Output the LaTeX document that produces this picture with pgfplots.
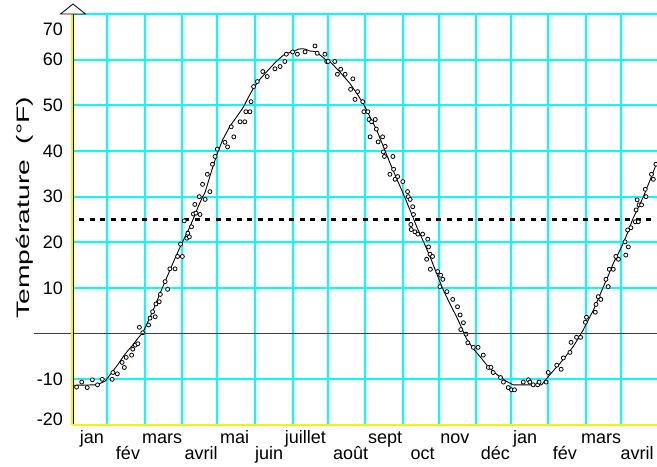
\documentclass[border=0pt]{standalone}
\usepackage{fontspec}
\setmainfont{Liberation Sans}
\usepackage{graphicx}
\usepackage{pgfplots}
\pgfplotsset{compat=1.18}

\definecolor{gridcyan}{RGB}{0,255,255}
\definecolor{axisyellow}{RGB}{245,245,0}

\begin{document}
\begin{tikzpicture}[font=\fontsize{9}{10}\selectfont]
\begin{axis}[
  name=ax,
  width=292pt, height=205.5pt, scale only axis,
  xmin=0.073, xmax=15.97, ymin=-20, ymax=70,
  axis line style={draw=none},
  clip=false,
  major tick length=0pt, minor tick length=0pt,
  major grid style={gridcyan, line width=0.9pt},
  % month names, two rows
  xtick={0.59,1.57,2.50,3.56,4.47,5.41,6.40,7.63,8.57,9.59,10.47,11.57,12.38,13.46,14.45,15.43},
  xticklabels={jan,{\raisebox{-7.75pt}{fév}},mars,{\raisebox{-7.75pt}{avril}},mai,{\raisebox{-7.75pt}{juin}},
    juillet,{\raisebox{-7.75pt}{août}},sept,{\raisebox{-7.75pt}{oct}},nov,{\raisebox{-7.75pt}{déc}},
    jan,{\raisebox{-7.75pt}{fév}},mars,{\raisebox{-7.75pt}{avril}}},
  xticklabel style={anchor=base, yshift=-9.25pt},
  xmajorgrids=false,
  % month boundaries
  extra x ticks={1,2.025,3.048,4.001,5.035,6.053,7.014,8.029,9.064,10.027,11.043,11.987,13.010,14.036,14.997},
  extra x tick labels={},
  extra x tick style={xmajorgrids=true, major grid style={gridcyan, line width=0.9pt}},
  ytick={-20,-10,10,20,30,40,50,60,70},
  yticklabels={{\raisebox{-0.2pt}[0pt][0pt]{-20}},{-10},{10},{20},{30},{40},{50},{60},{\raisebox{-10.7pt}[0pt][0pt]{70}}},
  yticklabel style={xshift=-1.5pt},
  ymajorgrids=true,
  ylabel={\scalebox{1.57}[1]{Température\ \ (°F)}},
  ylabel style={at={([xshift=-21.65pt]rel axis cs:0,0.529)}, anchor=base},
]
% reference level
\addplot[black, line width=1.5pt, dash pattern=on 2.5pt off 2.75pt] coordinates {(0.24,25) (15.97,25)};

% smoothed curve
\addplot[black, line width=0.45pt, line join=round] coordinates {
(0.073,-11.3) (0.72,-11.2) (0.95,-10.4) (1.14,-8.4) (1.30,-6.7) (1.44,-5.0) (1.58,-3.6)
(1.71,-2.4) (1.84,-1.0) (1.97,0.2) (2.10,2.4) (2.22,4.5) (2.33,6.6) (2.44,8.8) (2.58,11.4)
(2.71,13.9) (2.85,16.5) (2.99,19.0) (3.12,21.2) (3.26,23.5) (3.37,25.6) (3.48,27.8) (3.58,29.6)
(3.67,31.0) (3.82,35.0) (3.98,39.0) (4.15,42.5) (4.35,45.5) (4.53,47.5) (4.71,49.6) (4.85,51.8)
(4.98,53.7) (5.15,55.6) (5.35,57.4) (5.58,59.4) (5.80,61.0) (5.95,61.5) (6.07,61.7) (6.20,62.3)
(6.30,62.4) (6.40,62.3) (6.52,61.9) (6.65,61.8) (6.80,61.0) (6.95,60.0) (7.10,59.3) (7.35,57.2)
(7.61,54.8) (7.80,52.6) (7.98,50.3) (8.15,47.6) (8.34,44.6) (8.52,41.0) (8.70,37.4) (8.88,34.0)
(9.06,30.7) (9.25,27.0) (9.43,23.4) (9.61,20.2) (9.79,16.9) (9.97,13.2) (10.15,9.6) (10.33,6.6)
(10.52,3.6) (10.65,1.3) (10.79,-1.2) (10.97,-3.3) (11.15,-5.0) (11.33,-6.8) (11.51,-8.3)
(11.70,-9.5) (11.88,-10.5) (12.06,-11.2) (12.83,-11.2) (12.92,-10.3) (13.01,-9.4) (13.17,-7.9)
(13.33,-6.5) (13.51,-4.7) (13.69,-2.8) (13.83,-1.0) (13.96,0.8) (14.10,3.0) (14.24,5.2)
(14.38,7.8) (14.51,10.3) (14.65,12.8) (14.78,15.4) (14.92,17.6) (15.05,19.8) (15.19,22.5)
(15.32,25.3) (15.46,27.6) (15.60,30.0) (15.78,33.6) (15.96,37.3)
};

% daily readings
\addplot[only marks, mark=*, mark size=1pt, mark options={draw=black, fill=white, line width=0.4pt}] coordinates {
(0.17,-11.7) (0.31,-10.6) (0.46,-11.8) (0.60,-10.1) (0.74,-11.2) (0.87,-10.0) (1.14,-10.0)
(1.16,-8.5) (1.28,-8.8) (1.41,-6.3) (1.47,-7.4) (1.52,-5.2) (1.67,-4.7) (1.70,-3.4) (1.77,-2.5)
(1.84,-2.2) (1.88,1.4) (1.97,0.2) (2.13,1.9) (2.17,3.4) (2.24,4.8) (2.31,3.7) (2.33,6.5)
(2.42,7.0) (2.45,8.6) (2.58,11.4) (2.65,9.7) (2.71,14.2) (2.85,14.2) (2.92,16.9) (3.00,19.6)
(3.05,16.9) (3.10,24.7) (3.17,20.9) (3.20,22.0) (3.24,21.2) (3.30,23.4) (3.35,26.2) (3.39,28.3)
(3.42,26.4) (3.53,26.1) (3.51,30.0) (3.60,32.7) (3.67,29.4) (3.73,34.9) (3.80,31.1) (3.87,37.1)
(3.94,38.8) (4.00,40.4) (4.21,41.9) (4.28,40.9) (4.38,45.3) (4.45,43.1) (4.62,46.4) (4.75,46.4)
(4.78,48.6) (4.89,48.6) (4.92,50.8) (4.99,54.1) (5.09,55.2) (5.24,57.4) (5.36,56.3) (5.57,58.0)
(5.71,58.5) (5.84,59.6) (5.88,61.2) (6.05,61.7) (6.18,61.2) (6.39,61.7) (6.66,63.0) (6.72,61.4)
(6.93,61.2) (6.98,59.6) (7.02,59.6) (7.20,59.6) (7.27,56.8) (7.36,57.9) (7.48,56.8) (7.63,53.5)
(7.69,55.8) (7.75,51.3) (7.82,53.0) (7.96,50.8) (7.99,48.6) (8.10,48.6) (8.13,46.9) (8.16,43.1)
(8.20,46.4) (8.30,46.9) (8.33,44.8) (8.38,42.0) (8.50,43.1) (8.52,39.8) (8.55,38.8) (8.57,41.0)
(8.70,34.9) (8.78,38.8) (8.80,36.0) (8.84,33.8) (8.91,34.4) (9.05,33.3) (9.18,31.1) (9.20,30.0)
(9.25,29.4) (9.27,23.9) (9.28,22.8) (9.32,27.8) (9.34,26.1) (9.38,22.3) (9.46,21.8) (9.59,21.8)
(9.70,16.3) (9.73,20.7) (9.75,19.0) (9.79,17.4) (9.80,14.1) (9.86,16.9) (10.00,13.6) (10.06,10.3)
(10.08,12.8) (10.14,11.9) (10.25,9.2) (10.41,7.5) (10.54,5.9) (10.61,4.1) (10.63,0.9) (10.70,2.4)
(10.77,-0.1) (10.82,-2.0) (10.97,-3.0) (11.10,-3.0) (11.24,-4.7) (11.38,-7.4) (11.45,-7.4)
(11.51,-8.5) (11.71,-9.6) (11.79,-10.6) (11.92,-11.8) (12.01,-12.3) (12.09,-12.3) (12.33,-10.6)
(12.47,-10.1) (12.51,-10.6) (12.60,-11.2) (12.72,-11.2) (12.76,-10.6) (12.95,-10.6) (13.01,-8.5)
(13.24,-6.9) (13.36,-7.8) (13.42,-5.3) (13.60,-4.1) (13.63,-1.9) (13.78,-0.8) (13.89,-0.8)
(14.02,2.5) (14.05,3.6) (14.29,4.7) (14.31,6.4) (14.37,8.1) (14.44,7.5) (14.58,11.9) (14.64,10.3)
(14.67,14.1) (14.78,14.1) (14.85,16.9) (14.92,16.3) (15.10,20.1) (15.12,17.2) (15.17,22.7)
(15.19,19.0) (15.26,23.2) (15.38,24.5) (15.40,27.1) (15.43,29.3) (15.46,24.5) (15.48,28.2)
(15.55,28.2) (15.65,31.6) (15.67,30.0) (15.82,34.9) (15.87,33.8) (15.94,37.1)
};
\end{axis}
% zero line (reaches into the label column), axis lines and arrow
\draw[black!75, line width=0.5pt] ([xshift=-19.5pt,yshift=45.667pt]ax.south west) -- ([yshift=45.667pt]ax.south east);
\draw[axisyellow, line width=1pt] ([xshift=-0.75pt]ax.south west) -- ([xshift=-0.75pt]ax.north west);
\draw[black, line width=0.45pt] (ax.south west) -- (ax.north west);
\draw[axisyellow, line width=1pt] (ax.south west) -- (ax.south east);
\draw[black, line width=0.4pt, fill=white] ([xshift=-6.25pt]ax.north west) -- ([yshift=5pt]ax.north west) -- ([xshift=6.25pt]ax.north west) -- cycle;
\pgfresetboundingbox
\path[use as bounding box] ([xshift=-36.5pt,yshift=-20.5pt]ax.south west) rectangle ([yshift=7pt]ax.north east);
\end{tikzpicture}
\end{document}
